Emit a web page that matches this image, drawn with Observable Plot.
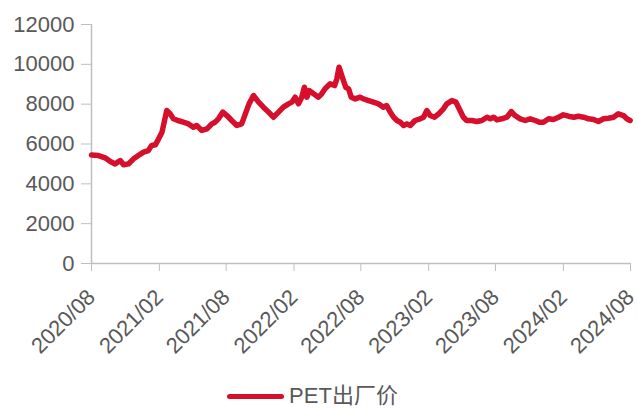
<!DOCTYPE html>
<html>
<head>
<meta charset="utf-8">
<script src="https://cdn.jsdelivr.net/npm/d3@7"></script>
<script src="https://cdn.jsdelivr.net/npm/@observablehq/plot@0.6"></script>
<style>
  html, body { margin: 0; padding: 0; background: #fff; }
  body { width: 637px; height: 410px; overflow: hidden; font-family: "Liberation Sans", Arial, "Noto Sans CJK SC", sans-serif; }
  #legend { display: flex; justify-content: center; align-items: center; height: 28px; margin-top: 8px; color: #595959; font-size: 22px; line-height: 28px; padding-right: 12px; font-family: "Liberation Sans", Arial, "Noto Sans CJK SC", sans-serif; }
  #legend .sw { width: 57px; height: 5px; background: #d6102c; border-radius: 3px; margin-right: 5px; }
</style>
</head>
<body>
<div id="chart"></div>
<div id="legend"><span class="sw"></span><span>PET出厂价</span></div>
<script>
const seriesName = "PET出厂价";
const dates = [
  "2020-08-01","2020-08-20","2020-09-07","2020-09-21","2020-10-04","2020-10-18","2020-10-27","2020-11-09","2020-11-23","2020-12-06",
  "2020-12-20","2021-01-02","2021-01-11","2021-01-21","2021-01-30","2021-02-08","2021-02-15","2021-02-21","2021-03-02","2021-03-11",
  "2021-03-23","2021-04-07","2021-04-21","2021-05-04","2021-05-13","2021-05-27","2021-06-10","2021-06-23","2021-07-02","2021-07-11",
  "2021-07-23","2021-08-03","2021-08-16","2021-08-30","2021-09-12","2021-09-22","2021-10-02","2021-10-14","2021-10-28","2021-11-10",
  "2021-11-24","2021-12-07","2021-12-21","2022-01-03","2022-01-17","2022-01-26","2022-02-04","2022-02-13","2022-02-22","2022-03-01",
  "2022-03-08","2022-03-14","2022-03-26","2022-04-08","2022-04-17","2022-04-26","2022-05-10","2022-05-22","2022-05-28","2022-06-03",
  "2022-06-12","2022-06-21","2022-06-29","2022-07-06","2022-07-17","2022-07-30","2022-08-08","2022-08-22","2022-09-04","2022-09-18",
  "2022-10-01","2022-10-10","2022-10-20","2022-10-29","2022-11-07","2022-11-16","2022-11-25","2022-12-04","2022-12-13","2022-12-26",
  "2023-01-09","2023-01-18","2023-01-27","2023-02-05","2023-02-17","2023-02-28","2023-03-13","2023-03-22","2023-04-05","2023-04-16",
  "2023-04-27","2023-05-06","2023-05-15","2023-05-29","2023-06-11","2023-06-25","2023-07-09","2023-07-18","2023-07-27","2023-08-05",
  "2023-08-18","2023-09-01","2023-09-13","2023-09-23","2023-10-07","2023-10-21","2023-11-03","2023-11-17","2023-11-28","2023-12-09",
  "2023-12-23","2024-01-05","2024-01-19","2024-02-01","2024-02-15","2024-02-29","2024-03-13","2024-03-27","2024-04-09","2024-04-23",
  "2024-05-06","2024-05-20","2024-06-02","2024-06-16","2024-06-29","2024-07-13","2024-07-22","2024-07-31"
];
const prices = [
  5450,5420,5305,5120,5000,5170,4955,5000,5255,5420,
  5590,5670,5925,5960,6260,6590,7180,7680,7515,7265,
  7180,7095,7010,6840,6930,6680,6760,7010,7095,7265,
  7600,7430,7180,6930,7010,7515,8015,8435,8100,7850,
  7600,7345,7600,7850,8015,8100,8350,8015,8350,8850,
  8350,8685,8520,8350,8520,8770,9020,8935,9270,9855,
  9350,8850,8770,8350,8265,8350,8265,8180,8100,8015,
  7850,7930,7600,7345,7180,7095,6930,7010,6930,7180,
  7265,7345,7680,7430,7345,7515,7765,8015,8180,8100,
  7680,7345,7180,7180,7130,7180,7345,7265,7345,7210,
  7265,7345,7630,7430,7265,7180,7265,7180,7095,7095,
  7265,7230,7345,7465,7395,7345,7395,7345,7265,7230,
  7130,7265,7295,7345,7515,7430,7265,7180
];
const xTicks = ["2020-08-01","2021-02-01","2021-08-01","2022-02-01","2022-08-01","2023-02-01","2023-08-01","2024-02-01","2024-08-01"];
const yTicks = [0, 2000, 4000, 6000, 8000, 10000, 12000];

const data = dates.map((d, i) => ({date: new Date(d + "T00:00:00Z"), value: prices[i], series: seriesName}));
const xTickDates = xTicks.map(d => new Date(d + "T00:00:00Z"));

const gray = "#bfbfbf";
const textGray = "#595959";
const red = "#d6102c";

const chart = Plot.plot({
  width: 637,
  height: 374,
  marginTop: 24,
  marginLeft: 91,
  marginRight: 7,
  marginBottom: 111,
  style: {fontFamily: '"Liberation Sans", Arial, "Noto Sans CJK SC", sans-serif', fontSize: "22px", color: textGray, background: "#fff"},
  x: {type: "utc", domain: [xTickDates[0], xTickDates[xTickDates.length - 1]]},
  y: {domain: [0, 12000]},
  marks: [
    Plot.ruleY([0], {stroke: gray, strokeWidth: 1.5}),
    Plot.ruleX([xTickDates[0]], {stroke: gray, strokeWidth: 1.5}),
    Plot.axisY({ticks: yTicks, tickSize: 10, tickPadding: 7, tickFormat: d => String(d), stroke: gray, fill: textGray, fontSize: 22, label: null}),
    Plot.axisX({ticks: xTickDates, tickSize: 8, text: null, stroke: gray, label: null}),
    Plot.axisX({ticks: xTickDates, tickSize: 0, tickPadding: 30, tickRotate: -45, tickFormat: d3.utcFormat("%Y/%m"), fill: textGray, fontSize: 22, label: null}),
    Plot.line(data, {x: "date", y: "value", stroke: red, strokeWidth: 5.5, strokeLinejoin: "round", strokeLinecap: "round"})
  ]
});
document.getElementById("chart").appendChild(chart);
</script>
</body>
</html>
